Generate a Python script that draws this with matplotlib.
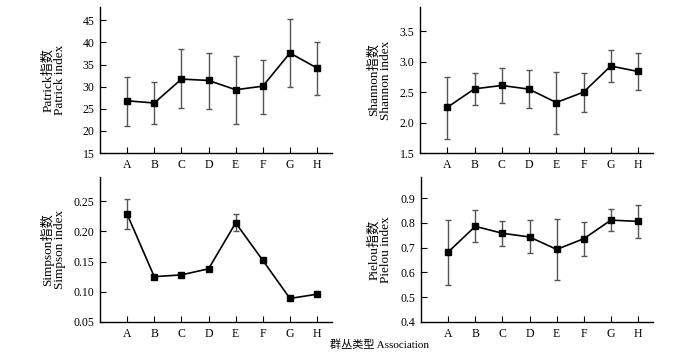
import matplotlib
matplotlib.use("Agg")
import matplotlib.pyplot as plt
from matplotlib.ticker import FormatStrFormatter, MultipleLocator

plt.rcParams['font.family'] = ['Liberation Serif', 'Noto Sans CJK SC']

groups = ['A', 'B', 'C', 'D', 'E', 'F', 'G', 'H']

# Patrick index: mean, upper and lower ends of error bars
patrick_mean = [26.8, 26.3, 31.7, 31.4, 29.3, 30.1, 37.6, 34.2]
patrick_hi = [32.2, 31.1, 38.4, 37.7, 36.9, 36.0, 45.2, 40.1]
patrick_lo = [21.1, 21.6, 25.2, 24.9, 21.6, 23.8, 29.9, 28.1]

shannon_mean = [2.25, 2.555, 2.61, 2.55, 2.33, 2.50, 2.93, 2.84]
shannon_hi = [2.75, 2.82, 2.89, 2.86, 2.83, 2.81, 3.20, 3.15]
shannon_lo = [1.73, 2.29, 2.33, 2.24, 1.82, 2.18, 2.67, 2.53]

simpson_mean = [0.2285, 0.125, 0.128, 0.138, 0.214, 0.152, 0.089, 0.096]
simpson_hi = [0.253, 0.127, 0.130, 0.140, 0.229, 0.154, 0.091, 0.098]
simpson_lo = [0.204, 0.123, 0.126, 0.136, 0.200, 0.150, 0.087, 0.094]

pielou_mean = [0.682, 0.786, 0.758, 0.743, 0.693, 0.736, 0.811, 0.806]
pielou_hi = [0.812, 0.850, 0.808, 0.811, 0.815, 0.803, 0.855, 0.872]
pielou_lo = [0.549, 0.722, 0.708, 0.678, 0.571, 0.668, 0.769, 0.737]

panels = [
    dict(rect=[100, 7, 232, 146], mean=patrick_mean, hi=patrick_hi, lo=patrick_lo,
         label='Patrick指数\nPatrick index', ylim=(15, 48), step=5, fmt='%d', lx=-0.147),
    dict(rect=[420, 7, 233, 146], mean=shannon_mean, hi=shannon_hi, lo=shannon_lo,
         label='Shannon指数\nShannon index', ylim=(1.5, 3.9), step=0.5, fmt='%.1f', lx=-0.12),
    dict(rect=[100, 177, 232, 145], mean=simpson_mean, hi=simpson_hi, lo=simpson_lo,
         label='Simpson指数\nSimpson index', ylim=(0.05, 0.29), step=0.05, fmt='%.2f', lx=-0.147),
    dict(rect=[421, 177, 232, 145], mean=pielou_mean, hi=pielou_hi, lo=pielou_lo,
         label='Pielou指数\nPielou index', ylim=(0.4, 0.985), step=0.1, fmt='%.1f', lx=-0.125),
]

W, H = 700, 358
fig = plt.figure(figsize=(7, 3.58), dpi=100)
x = list(range(1, len(groups) + 1))

for p in panels:
    l, t, w, h = p['rect']
    ax = fig.add_axes([l / W, (H - t - h) / H, w / W, h / H])
    yerr = [[m - lo for m, lo in zip(p['mean'], p['lo'])],
            [hi - m for m, hi in zip(p['mean'], p['hi'])]]
    ax.errorbar(x, p['mean'], yerr=yerr, fmt='none', ecolor='#555555',
                elinewidth=1, capsize=2.5, capthick=1, zorder=2)
    ax.plot(x, p['mean'], color='black', lw=1.2, marker='s', markersize=4.2, zorder=3)
    ax.set_xlim(0, 8.55)
    ax.set_ylim(*p['ylim'])
    ax.set_xticks(x)
    ax.set_xticklabels(groups)
    ax.yaxis.set_major_locator(MultipleLocator(p['step']))
    ax.yaxis.set_major_formatter(FormatStrFormatter(p['fmt']))
    for s in ['top', 'right']:
        ax.spines[s].set_visible(False)
    for s in ['left', 'bottom']:
        ax.spines[s].set_linewidth(1.0)
    ax.tick_params(axis='both', direction='in', length=4, width=0.8, labelsize=8.5, pad=4)
    ax.set_ylabel(p['label'], fontsize=9.5, linespacing=1.0)
    ax.yaxis.set_label_coords(p['lx'], 0.5)

fig.text(380 / W, 1 - 345 / H, '群丛类型 Association', ha='center', va='center', fontsize=8)

fig.savefig('out.png', dpi=100)
